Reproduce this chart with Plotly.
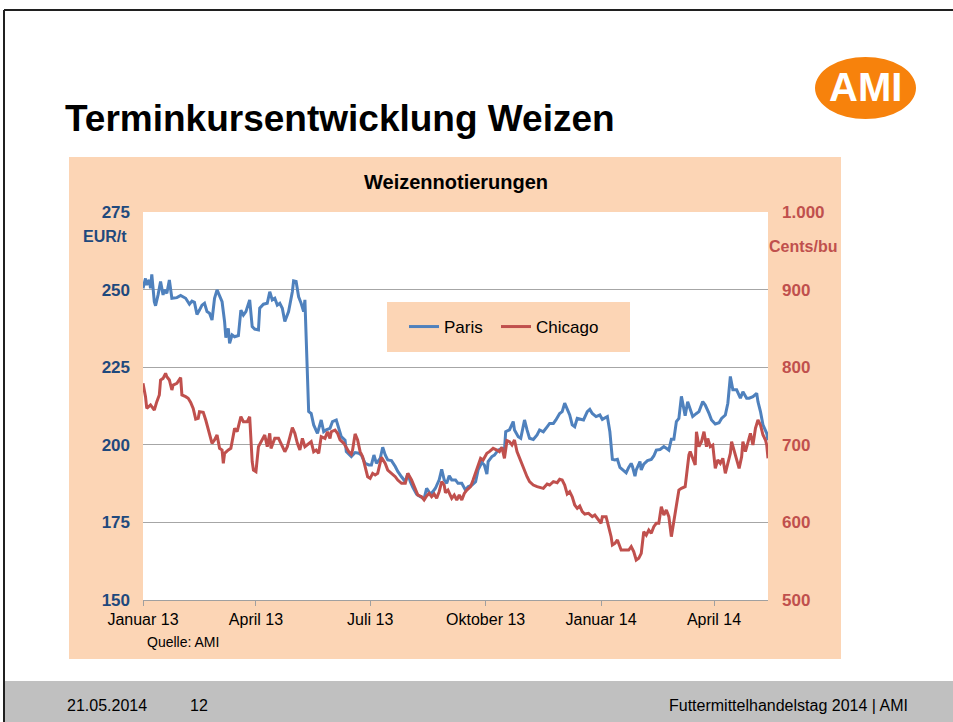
import pandas as pd
import plotly.graph_objects as go

# ---------------- data ----------------
START = "2013-01-01"

paris_days = [0, 2, 3, 5, 6, 7, 9, 10, 12, 14, 16, 17, 19, 21, 23, 27, 30, 34, 37, 39, 41, 43, 45, 47, 49,
              51, 53, 55, 57, 59, 63, 65, 66, 68, 69, 71, 73, 76, 78, 80, 82, 84, 85, 87, 89, 92, 93, 96,
              99, 101, 103, 105, 107, 109, 111, 113, 116, 119, 120, 122, 124, 126, 128, 129, 132, 134, 136,
              139, 142, 144, 146, 149, 151, 154, 156, 158, 161, 162, 166, 169, 172, 174, 177, 180, 182, 184,
              186, 188, 189, 191, 193, 195, 198, 201, 203, 206, 209, 211, 213, 215, 218, 221, 224, 226, 229,
              231, 233, 236, 238, 240, 242, 244, 246, 249, 251, 254, 257, 259, 262, 265, 267, 270, 272, 274,
              275, 278, 280, 283, 286, 288, 289, 292, 295, 296, 299, 301, 304, 306, 308, 311, 314, 316, 319,
              322, 324, 327, 329, 332, 334, 336, 338, 340, 342, 344, 346, 349, 351, 354, 356, 358, 361, 364,
              366, 370, 372, 374, 376, 378, 380, 383, 385, 387, 389, 390, 392, 393, 395, 396, 397, 399, 402,
              405, 407, 409, 412, 415, 417, 419, 421, 423, 425, 427, 429, 431, 432, 434, 436, 438, 441, 443,
              446, 448, 451, 453, 456, 459, 461, 464, 466, 468, 470, 473, 476, 478, 481, 483, 486, 489, 490,
              492, 494, 496, 497, 498]
paris_eur = [250.4, 253.6, 251.5, 253.1, 250.4, 254.9, 246.1, 244.8, 248.3, 252.6, 248.3, 249.9, 248.8, 253.1,
             247.2, 247.4, 248.1, 247.2, 245.3, 246.3, 245.9, 242.0, 243.4, 245.0, 245.6, 242.9, 242.4, 240.2,
             247.2, 249.9, 246.1, 239.7, 234.5, 237.5, 232.7, 235.4, 234.8, 235.2, 243.4, 241.8, 242.9, 245.6,
             246.7, 238.1, 237.3, 237.0, 244.0, 245.3, 245.6, 249.3, 246.7, 247.2, 245.0, 245.6, 244.0, 239.7,
             242.9, 249.3, 252.8, 252.6, 247.7, 245.6, 242.9, 246.7, 210.7, 210.1, 206.4, 203.7, 208.0, 204.2,
             204.8, 205.3, 207.5, 208.0, 205.3, 202.6, 201.5, 197.8, 196.2, 197.5, 197.3, 196.7, 194.0, 193.5,
             193.5, 196.7, 194.0, 195.1, 195.6, 199.2, 196.7, 195.1, 194.9, 193.0, 191.4, 189.7, 188.1, 190.8,
             188.1, 186.3, 184.1, 183.3, 182.7, 186.0, 184.1, 184.9, 186.0, 188.7, 192.1, 188.7, 187.6, 190.0,
             188.7, 188.7, 187.6, 187.6, 185.4, 186.5, 187.0, 188.1, 191.9, 194.3, 193.5, 190.6, 194.6, 196.2,
             196.7, 198.3, 198.9, 198.3, 204.2, 204.8, 207.5, 204.8, 202.6, 202.1, 208.0, 204.8, 202.1, 201.7,
             203.2, 204.8, 204.2, 205.8, 206.9, 206.9, 208.0, 210.1, 210.7, 213.4, 211.4, 209.6, 206.4, 205.8,
             208.5, 208.2, 208.0, 210.7, 211.4, 210.1, 209.1, 209.6, 208.2, 209.1, 204.2, 195.3, 195.1, 195.3,
             192.7, 191.7, 191.0, 192.7, 194.0, 193.0, 189.9, 191.9, 193.5, 194.6, 191.9, 193.8, 194.9, 195.3,
             196.4, 198.3, 198.5, 199.4, 198.9, 198.3, 201.8, 201.8, 207.5, 208.5, 215.6, 211.5, 209.4, 213.9,
             211.8, 209.1, 210.1, 210.7, 213.9, 212.8, 210.1, 208.0, 206.7, 207.1, 208.5, 209.6, 213.4, 222.0,
             217.7, 217.7, 215.0, 217.1, 215.0, 215.0, 215.5, 216.6, 213.9, 210.7, 206.4, 204.2, 203.7, 201.5]

chicago_days = [0, 2, 3, 6, 7, 9, 11, 13, 14, 16, 18, 19, 21, 23, 24, 27, 30, 31, 34, 36, 38, 40, 42, 44, 45,
                48, 50, 52, 55, 57, 59, 61, 63, 64, 65, 68, 70, 71, 73, 75, 78, 80, 83, 85, 87, 88, 90, 92,
                94, 97, 99, 101, 102, 105, 108, 110, 113, 115, 117, 119, 121, 123, 125, 127, 129, 132, 134,
                136, 138, 140, 142, 145, 147, 149, 150, 153, 155, 157, 160, 164, 166, 167, 169, 171, 173, 175,
                177, 179, 181, 183, 185, 187, 190, 193, 195, 198, 201, 203, 206, 209, 211, 214, 217, 219, 222,
                224, 226, 228, 230, 232, 234, 236, 238, 240, 241, 243, 246, 248, 250, 252, 254, 256, 258, 261,
                263, 266, 269, 271, 274, 276, 279, 282, 284, 286, 288, 290, 292, 294, 296, 298, 300, 303, 306,
                308, 311, 314, 316, 319, 322, 324, 327, 330, 332, 334, 336, 338, 340, 342, 344, 346, 348, 350,
                352, 355, 358, 360, 363, 365, 366, 369, 371, 373, 374, 376, 378, 380, 381, 384, 387, 389, 391,
                393, 395, 397, 399, 401, 403, 405, 407, 409, 411, 413, 415, 417, 419, 421, 423, 425, 427, 429,
                432, 435, 436, 438, 440, 441, 443, 445, 447, 449, 450, 452, 454, 456, 458, 460, 462, 464, 466,
                468, 469, 471, 473, 475, 477, 478, 480, 482, 484, 486, 488, 490, 492, 494, 496, 497, 498]
chicago_cents = [779.2, 762.0, 746.9, 751.3, 749.1, 744.8, 755.6, 764.2, 783.5, 785.6, 792.1, 787.8, 783.5,
                 770.6, 777.0, 779.2, 786.5, 764.2, 762.0, 759.9, 754.7, 746.9, 733.2, 734.1, 742.7, 741.8,
                 731.9, 721.2, 701.9, 706.2, 712.6, 695.4, 693.3, 676.1, 689.0, 693.3, 695.4, 704.0, 721.2,
                 716.9, 736.2, 729.8, 729.8, 736.2, 678.2, 667.5, 665.4, 697.6, 704.0, 712.6, 697.6, 714.8,
                 695.4, 708.3, 708.3, 701.9, 691.1, 697.6, 708.3, 722.1, 714.8, 701.9, 693.3, 708.3, 697.6,
                 701.9, 704.0, 691.1, 693.3, 689.0, 710.5, 708.3, 716.9, 708.3, 716.9, 719.0, 714.8, 706.2,
                 701.9, 691.1, 688.0, 693.3, 714.0, 706.2, 691.2, 684.7, 671.8, 658.9, 656.8, 663.2, 661.1,
                 663.2, 683.8, 676.1, 667.5, 663.2, 658.9, 654.6, 650.3, 650.3, 663.2, 654.6, 641.7, 635.3,
                 633.1, 628.9, 634.0, 637.4, 633.1, 636.6, 631.0, 639.6, 652.5, 648.2, 638.3, 641.7, 631.0,
                 635.3, 628.9, 635.3, 628.9, 637.4, 641.7, 646.0, 654.6, 669.7, 682.6, 680.4, 689.0, 691.2,
                 695.4, 693.3, 691.2, 696.7, 682.6, 705.3, 704.0, 699.7, 706.2, 691.2, 682.6, 669.7, 658.9,
                 652.5, 648.2, 646.0, 645.2, 643.9, 649.5, 648.2, 652.5, 651.2, 655.5, 654.6, 648.2, 636.6,
                 639.6, 633.1, 622.4, 618.1, 621.1, 613.8, 610.8, 611.7, 607.4, 609.5, 603.1, 598.8, 607.4,
                 607.4, 594.5, 581.6, 570.9, 573.0, 577.3, 566.6, 564.4, 564.4, 564.4, 568.7, 562.3, 551.5,
                 553.7, 560.1, 588.0, 583.7, 590.2, 585.9, 594.5, 598.8, 598.8, 620.3, 609.5, 616.0, 607.4,
                 581.6, 601.0, 624.6, 641.7, 643.9, 646.0, 686.9, 691.2, 682.6, 674.0, 716.9, 697.6, 704.0,
                 716.9, 697.6, 708.3, 697.6, 699.7, 669.7, 680.4, 676.1, 682.6, 663.2, 676.1, 689.0, 704.0,
                 693.3, 680.4, 669.7, 684.7, 704.0, 691.2, 701.9, 714.8, 699.7, 721.2, 731.9, 725.5, 712.6,
                 706.2, 699.7, 682.6]

x_tick_dates = ["2013-01-01", "2013-04-01", "2013-07-01", "2013-10-01", "2014-01-01", "2014-04-01"]
x_tick_labels = ["Januar 13", "April 13", "Juli 13", "Oktober 13", "Januar 14", "April 14"]
left_ticks = [150, 175, 200, 225, 250, 275]
right_ticks = [500, 600, 700, 800, 900, 1000]
right_tick_labels = ["500", "600", "700", "800", "900", "1.000"]
x_range = ["2013-01-01", "2014-05-14"]

paris_dates = pd.Timestamp(START) + pd.to_timedelta(paris_days, unit="D")
chicago_dates = pd.Timestamp(START) + pd.to_timedelta(chicago_days, unit="D")

# ---------------- layout constants ----------------
W, H = 953, 722
FONT = "Arial, Liberation Sans, sans-serif"
PEACH = "#FCD5B5"
BLUE = "#4F81BD"
RED = "#C0504D"
DARKBLUE = "#1F497D"


def px(x):
    return x / W


def py(y):
    return 1 - y / H


fig = go.Figure()
fig.add_trace(go.Scatter(x=paris_dates, y=paris_eur, name="Paris", mode="lines",
                         line=dict(color=BLUE, width=3), yaxis="y", legend="legend"))
fig.add_trace(go.Scatter(x=chicago_dates, y=chicago_cents, name="Chicago", mode="lines",
                         line=dict(color=RED, width=3), yaxis="y2", legend="legend2"))

shapes = [
    # chart area
    dict(type="rect", xref="paper", yref="paper", x0=px(69), x1=px(841), y0=py(659), y1=py(157),
         fillcolor=PEACH, line=dict(width=0), layer="below"),
    # plot area
    dict(type="rect", xref="paper", yref="paper", x0=px(143), x1=px(768), y0=py(600), y1=py(212),
         fillcolor="white", line=dict(width=0), layer="below"),
    # legend box
    dict(type="rect", xref="paper", yref="paper", x0=px(387), x1=px(630), y0=py(352), y1=py(302),
         fillcolor=PEACH, line=dict(width=0), layer="between"),
    # footer band
    dict(type="rect", xref="paper", yref="paper", x0=px(5), x1=1, y0=0, y1=py(681),
         fillcolor="#C0C0C0", line=dict(width=0), layer="below"),
    # slide border
    dict(type="line", xref="paper", yref="paper", x0=px(4), x1=px(4), y0=0, y1=py(10),
         line=dict(color="#202020", width=2)),
    dict(type="line", xref="paper", yref="paper", x0=px(4), x1=1, y0=py(10), y1=py(10),
         line=dict(color="#202020", width=2)),
    # logo ellipse
    dict(type="circle", xref="paper", yref="paper", x0=px(815), x1=px(916), y0=py(119), y1=py(57),
         fillcolor="#F7820C", line=dict(width=0)),
]

annotations = [
    dict(text="<b>Terminkursentwicklung Weizen</b>", x=px(63), y=py(118), xanchor="left", yanchor="middle",
         font=dict(size=37, color="black", family=FONT)),
    dict(text="<b>AMI</b>", x=px(865), y=py(87), xanchor="center", yanchor="middle",
         font=dict(size=40, color="white", family=FONT)),
    dict(text="<b>Weizennotierungen</b>", x=px(456), y=py(182), xanchor="center", yanchor="middle",
         font=dict(size=20, color="black", family=FONT)),
    dict(text="<b>EUR/t</b>", x=px(129), y=py(236), xanchor="right", yanchor="middle",
         font=dict(size=16, color=DARKBLUE, family=FONT)),
    dict(text="<b>Cents/bu</b>", x=px(803), y=py(247), xanchor="center", yanchor="middle",
         font=dict(size=16, color=RED, family=FONT)),
    dict(text="Quelle: AMI", x=px(145), y=py(642), xanchor="left", yanchor="middle",
         font=dict(size=14, color="black", family=FONT)),
    dict(text="21.05.2014", x=px(65), y=py(705), xanchor="left", yanchor="middle",
         font=dict(size=16, color="black", family=FONT)),
    dict(text="12", x=px(188), y=py(705), xanchor="left", yanchor="middle",
         font=dict(size=16, color="black", family=FONT)),
    dict(text="Futtermittelhandelstag 2014 | AMI", x=px(910), y=py(705), xanchor="right", yanchor="middle",
         font=dict(size=16, color="black", family=FONT)),
]
for a in annotations:
    a.update(xref="paper", yref="paper", showarrow=False)

legend_style = dict(orientation="h", yanchor="middle", xanchor="left", y=py(327),
                    bgcolor="rgba(0,0,0,0)", font=dict(size=17, color="black", family=FONT),
                    itemwidth=30)

fig.update_layout(
    template="none",
    width=W, height=H, margin=dict(l=0, r=0, t=0, b=0, pad=0, autoexpand=False),
    paper_bgcolor="white", plot_bgcolor="white",
    font=dict(family=FONT, color="black"),
    shapes=shapes, annotations=annotations,
    showlegend=True,
    legend=dict(x=px(404), **legend_style),
    legend2=dict(x=px(496), **legend_style),
    xaxis=dict(domain=[px(143), px(768)], type="date", range=x_range, automargin=False,
               tickvals=x_tick_dates, ticktext=x_tick_labels, showgrid=False,
               showline=True, linecolor="#A0A0A0", linewidth=1,
               ticks="outside", ticklen=5, tickcolor="#A0A0A0",
               tickfont=dict(size=16, color="black", family=FONT), zeroline=False),
    yaxis=dict(domain=[py(600), py(212)], range=[150, 275], tickvals=left_ticks, automargin=False,
               showgrid=True, gridcolor="#A6A6A6", gridwidth=1, zeroline=False, showline=False,
               ticks="", ticklabelstandoff=12,
               tickfont=dict(size=17, color=DARKBLUE, family=FONT, weight="bold")),
    yaxis2=dict(overlaying="y", side="right", range=[500, 1000], tickvals=right_ticks, automargin=False,
                ticktext=right_tick_labels, showgrid=False, zeroline=False, showline=False,
                ticks="", ticklabelstandoff=13,
                tickfont=dict(size=17, color=RED, family=FONT, weight="bold")),
)

fig.write_html("out.html", config={"displayModeBar": False},
               post_script="document.body.style.margin='0px';document.body.style.overflow='hidden';")
